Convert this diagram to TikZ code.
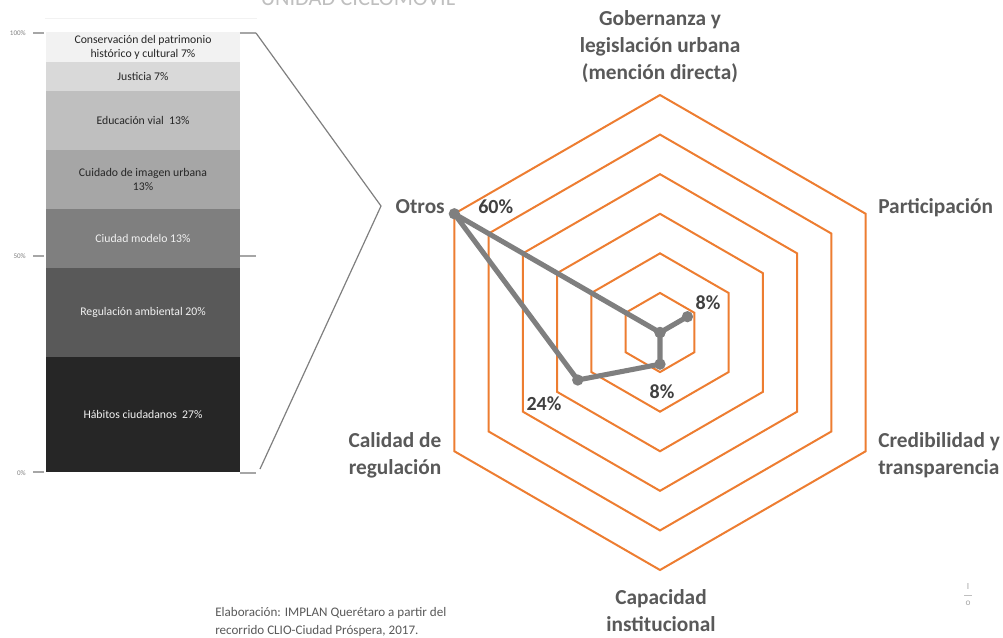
\documentclass[tikz,border=0pt]{standalone}
\usepackage{fontspec}
\setmainfont{Carlito}
\usetikzlibrary{calc}
\definecolor{ringc}{HTML}{ED7D31}
\definecolor{polyc}{HTML}{7F7F7F}
\definecolor{lblc}{HTML}{595959}
\definecolor{valc}{HTML}{404040}
\definecolor{b1}{HTML}{262626}
\definecolor{b2}{HTML}{595959}
\definecolor{b3}{HTML}{7F7F7F}
\definecolor{b4}{HTML}{A6A6A6}
\definecolor{b5}{HTML}{BFBFBF}
\definecolor{b6}{HTML}{D9D9D9}
\definecolor{b7}{HTML}{F2F2F2}
\definecolor{tickc}{HTML}{A6A6A6}
\tikzset{
  ring/.style={draw=ringc, line width=1.5pt, line join=miter},
  poly/.style={draw=polyc, line width=3.8pt, line join=round},
  dot/.style={circle, fill=polyc, inner sep=0pt, minimum size=8.5pt},
  axlbl/.style={inner sep=0pt, text=lblc, font=\fontsize{16}{19}\selectfont\bfseries},
  vallbl/.style={inner sep=0pt, text=valc, font=\fontsize{15}{18}\selectfont\bfseries},
  barlbl/.style={inner sep=0pt, align=center, font=\fontsize{8.8}{10.5}\selectfont},
  ticklbl/.style={inner sep=0pt, text=b3, font=\fontsize{5.3}{6}\selectfont},
  tick/.style={draw=tickc, line width=0.9pt},
  brk/.style={draw=b3, line width=0.9pt},
  foot/.style={inner sep=0pt, text=lblc, font=\fontsize{9.8}{12}\selectfont}
}
\begin{document}
\begin{tikzpicture}[x=0.75pt, y=-0.75pt]
\useasboundingbox (0,0) rectangle (1003,637);
\clip (0,0) rectangle (1003,637);
% title (cut off at the top edge, as in the reference)
\node[inner sep=0pt, anchor=base, text=b5, font=\fontsize{16.8}{20}\selectfont] (title) at (358,5) {UNIDAD CICLOMOVIL};
% faint line above bar
\draw[draw=b7, line width=0.7pt] (45,18) -- (257,18);
% stacked bar
\fill[b1] (46,472) rectangle (240,356.5);
\fill[b2] (46,356.5) rectangle (240,268);
\fill[b3] (46,268) rectangle (240,209);
\fill[b4] (46,209) rectangle (240,150);
\fill[b5] (46,150) rectangle (240,91);
\fill[b6] (46,91) rectangle (240,61.5);
\fill[b7] (46,61.5) rectangle (240,32);
\node[barlbl, text=b1] (s7) at (143,47) {Conservación del patrimonio\\histórico y cultural 7\%};
\node[barlbl, text=b1] (s6) at (143,76.5) {Justicia 7\%};
\node[barlbl, text=b1] (s5) at (143,120.5) {Educación vial\ \ 13\%};
\node[barlbl, text=b1] (s4) at (143,179.5) {Cuidado de imagen urbana\\13\%};
\node[barlbl, text=b7] (s3) at (143,238.5) {Ciudad modelo 13\%};
\node[barlbl, text=b7] (s2) at (143,312) {Regulación ambiental 20\%};
\node[barlbl, text=b7] (s1) at (143,414) {Hábitos ciudadanos\ \ 27\%};
% left ticks
\coordinate (lt1a) at (33,33); \coordinate (lt1b) at (44,33);
\coordinate (lt2a) at (33,256); \coordinate (lt2b) at (44,256);
\coordinate (lt3a) at (33,472); \coordinate (lt3b) at (44,472);
\draw[tick] (lt1a) -- (lt1b);
\draw[tick] (lt2a) -- (lt2b);
\draw[tick] (lt3a) -- (lt3b);
\node[ticklbl, anchor=east] (t100) at (26,33) {100\%};
\node[ticklbl, anchor=east] (t50) at (26,256) {50\%};
\node[ticklbl, anchor=east] (t0) at (26,473) {0\%};
% right ticks and bracket
\coordinate (rt1a) at (240,33); \coordinate (rt1b) at (256,33);
\coordinate (rt2a) at (240,256); \coordinate (rt2b) at (256,256);
\coordinate (rt3a) at (240,473); \coordinate (rt3b) at (256,473);
\coordinate (bl) at (260,469);
\coordinate (apex) at (381,206);
\draw[tick] (rt1a) -- (rt1b);
\draw[tick] (rt2a) -- (rt2b);
\draw[tick] (rt3a) -- (rt3b);
\draw[brk] (rt1b) -- (apex) -- (bl);
% radar
\begin{scope}[shift={(660,332.5)}]
  \foreach \k in {1,...,6}{
    \draw[ring] (-90:\k*39.58) -- (-30:\k*39.58) -- (30:\k*39.58) -- (90:\k*39.58) -- (150:\k*39.58) -- (210:\k*39.58) -- cycle;
  }
  \coordinate (g) at (-90:0);
  \coordinate (p) at (-30:8*3.958);
  \coordinate (cr) at (30:0);
  \coordinate (ca) at (90:8*3.958);
  \coordinate (cl) at (150:24*3.958);
  \coordinate (o) at (210:60*3.958);
  \draw[poly] (g) -- (p) -- (cr) -- (ca) -- (cl) -- (o) -- cycle;
  \foreach \q in {g,p,cr,ca,cl,o}{ \node[dot] at (\q) {}; }
\end{scope}
% axis labels
\node[axlbl, anchor=base] (gob1) at (660,25) {Gobernanza y};
\node[axlbl, anchor=base] (gob2) at (660,52) {legislación urbana};
\node[axlbl, anchor=base] (gob3) at (660,79) {(mención directa)};
\node[axlbl, anchor=base east] (otr) at (445,213) {Otros};
\node[axlbl, anchor=base west] (par) at (878,213) {Participación};
\node[axlbl, anchor=base west] (cre1) at (878,447) {Credibilidad y};
\node[axlbl, anchor=base west] (cre2) at (878,474) {transparencia};
\node[axlbl, anchor=base] (cal1) at (395,447) {Calidad de};
\node[axlbl, anchor=base] (cal2) at (395,474) {regulación};
\node[axlbl, anchor=base] (cap1) at (661,604) {Capacidad};
\node[axlbl, anchor=base] (cap2) at (661,631) {institucional};
% values
\node[vallbl, anchor=base west] (v60) at (478,213) {60\%};
\node[vallbl, anchor=base] (v8a) at (708,309) {8\%};
\node[vallbl, anchor=base] (v8b) at (662,398) {8\%};
\node[vallbl, anchor=base] (v24) at (544,410) {24\%};
% footer
\node[foot, anchor=base west] (f1) at (215,616) {Elaboración: IMPLAN Querétaro a partir del};
\node[foot, anchor=base west] (f2) at (215,634) {recorrido CLIO-Ciudad Próspera, 2017.};
% corner glyph
\node[inner sep=0pt, text=b4, font=\fontsize{7}{8}\selectfont] (cg1) at (968,586) {I};
\coordinate (cgl) at (964,595); \coordinate (cgr) at (972,595);
\draw[draw=b5, line width=0.5pt] (cgl) -- (cgr);
\node[inner sep=0pt, text=b4, font=\fontsize{7}{8}\selectfont] (cg2) at (968,603) {o};
\end{tikzpicture}
\end{document}
